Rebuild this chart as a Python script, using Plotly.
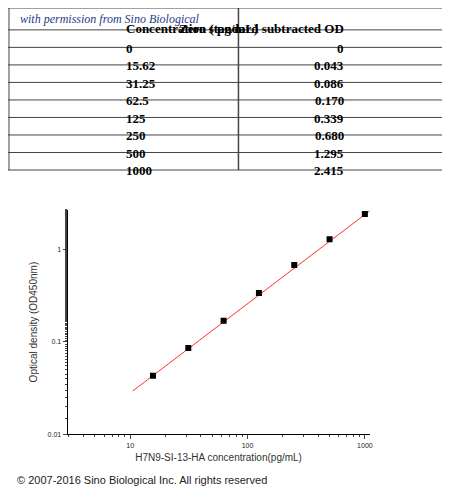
import plotly.graph_objects as go

conc_labels = ["0", "15.62", "31.25", "62.5", "125", "250", "500", "1000"]
od_labels = ["0", "0.043", "0.086", "0.170", "0.339", "0.680", "1.295", "2.415"]
headers = ["Concentration ( pg/mL)", "Zero standard subtracted OD"]
conc = [15.62, 31.25, 62.5, 125, 250, 500, 1000]
od = [0.043, 0.086, 0.170, 0.339, 0.680, 1.295, 2.415]
fit_x = [10.5, 1100]
fit_y = [0.0295, 2.62]

W, H = 450, 496


def py(p):
    # pixel row from the top -> paper fraction
    return 1 - p / H


fig = go.Figure()
fig.add_trace(go.Scatter(x=fit_x, y=fit_y, mode="lines",
                         line=dict(color="#ff3030", width=1), showlegend=False))
fig.add_trace(go.Scatter(x=conc, y=od, mode="markers",
                         marker=dict(symbol="square", size=6, color="black"), showlegend=False))

# table drawn with shapes and annotations
row_top = 22
row_h = (163 - row_top) / len(conc_labels)
col_x = [1, 232, 449]
shapes = []
annots = []
bounds = [0, row_top] + [row_top + row_h * (i + 1) for i in range(len(conc_labels))]
for b in bounds:
    shapes.append(dict(type="line", xref="paper", yref="paper", x0=0, x1=1, y0=py(b), y1=py(b),
                       line=dict(color="#444", width=1)))
for c in col_x:
    shapes.append(dict(type="line", xref="paper", yref="paper", x0=c / W, x1=c / W, y0=py(0), y1=py(163),
                       line=dict(color="#444", width=1.5 if c == 232 else 1)))
centers = [(col_x[0] + col_x[1]) / 2, (col_x[1] + col_x[2]) / 2]
for j, h in enumerate(headers):
    annots.append(dict(text="<b>%s</b>" % h, x=centers[j] / W, y=py(row_top / 2), xref="paper", yref="paper",
                       showarrow=False, font=dict(family="Liberation Serif", size=13, color="black")))
for i, (a, b) in enumerate(zip(conc_labels, od_labels)):
    yc = py(row_top + row_h * (i + 0.5))
    for j, v in enumerate((a, b)):
        annots.append(dict(text="<b>%s</b>" % v, x=centers[j] / W, y=yc, xref="paper", yref="paper",
                           showarrow=False, font=dict(family="Liberation Serif", size=13, color="black")))

annots += [
    dict(text="<i>with permission from Sino Biological</i>", x=10 / W, y=py(2),
         xref="paper", yref="paper", xanchor="left", yanchor="top", showarrow=False,
         font=dict(family="Liberation Serif", size=12, color="#1f3a8a")),
    dict(text="© 2007-2016 Sino Biological Inc. All rights reserved", x=7 / W, y=py(475),
         xref="paper", yref="paper", xanchor="left", yanchor="middle", showarrow=False,
         font=dict(family="Liberation Sans", size=11, color="#222")),
]

fig.update_layout(
    width=W, height=H, margin=dict(l=0, r=0, t=0, b=0),
    paper_bgcolor="white", plot_bgcolor="white",
    font=dict(family="Liberation Sans", color="#333"),
    shapes=shapes, annotations=annots,
    xaxis=dict(type="log", range=[0.466, 3.04], domain=[60 / W, 364 / W],
               showline=True, linecolor="black", showgrid=False, zeroline=False,
               ticks="outside", ticklen=4, tickvals=[10, 100, 1000], ticktext=["10", "100", "1000"],
               minor=dict(ticks="outside", ticklen=2, tickvals=[3, 4, 5, 6, 7, 8, 9, 20, 30, 40, 50, 60, 70, 80, 90,
                                                                200, 300, 400, 500, 600, 700, 800, 900]),
               tickfont=dict(size=7, color="#222"),
               title=dict(text="H7N9-SI-13-HA concentration(pg/mL)", font=dict(size=10), standoff=6)),
    yaxis=dict(type="log", range=[-2, 0.43], domain=[(H - 429) / H, (H - 203) / H],
               showline=True, linecolor="black", showgrid=False, zeroline=False,
               ticks="outside", ticklen=4, tickvals=[0.01, 0.1, 1], ticktext=["0.01", "0.1", "1"],
               minor=dict(ticks="outside", ticklen=2),
               tickfont=dict(size=7, color="#222"),
               title=dict(text="Optical density (OD450nm)", font=dict(size=10), standoff=8)),
)

fig.write_html("out.html")
